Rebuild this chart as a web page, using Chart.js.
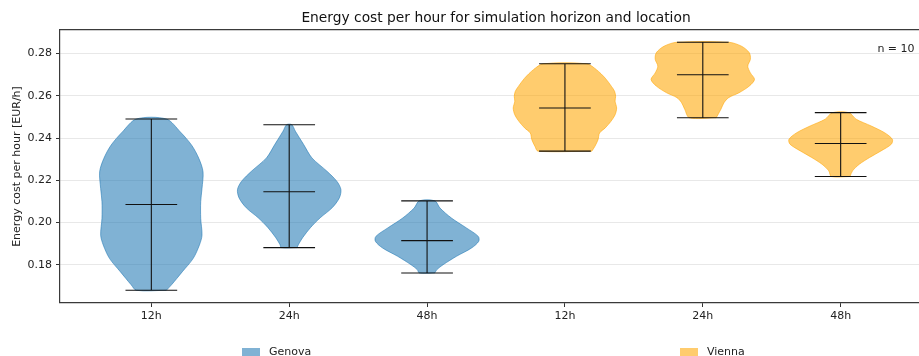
<!DOCTYPE html>
<html>
<head>
<meta charset="utf-8">
<script src="https://cdn.jsdelivr.net/npm/chart.js@4/dist/chart.umd.min.js"></script>
<style>
  html, body { margin: 0; padding: 0; background: #fff; }
  body { width: 919px; height: 356px; overflow: hidden; position: relative; font-family: "DejaVu Sans", sans-serif; }
  #wrap { position: absolute; left: 0; top: 0; width: 935px; height: 356px; }
  .leg { position: absolute; top: 344px; height: 16px; font-size: 11px; color: #222; white-space: nowrap; }
  .leg .sw { position: absolute; left: 0; top: 3.5px; width: 18px; height: 8px; }
  .leg .tx { position: absolute; left: 27px; top: 0; line-height: 16px; }
</style>
</head>
<body>
<div id="wrap"><canvas id="c" width="935" height="356"></canvas></div>
<div class="leg" style="left:242px"><div class="sw" id="swG"></div><div class="tx" id="txG"></div></div>
<div class="leg" style="left:680px"><div class="sw" id="swV"></div><div class="tx" id="txV"></div></div>
<script>
// Energy cost per hour [EUR/h], 10 runs per horizon and location
const locations = ['Genova', 'Vienna'];
const horizons = ['12h', '24h', '48h'];
const tickLabels = ['12h', '24h', '48h', '12h', '24h', '48h'];
const sampleSize = 10;

// summary lines per violin (Genova 12h, 24h, 48h, Vienna 12h, 24h, 48h)
const mins    = [0.1680, 0.1882, 0.1762, 0.2338, 0.2496, 0.2218];
const maxes   = [0.2490, 0.2463, 0.2103, 0.2751, 0.2853, 0.2520];
const medians = [0.2086, 0.2146, 0.1915, 0.2542, 0.2699, 0.2374];

// kernel density profiles: cost levels and relative density (1 = widest)
const genova12Levels  = [0.1680, 0.1706, 0.1768, 0.1831, 0.1894, 0.1941, 0.2020, 0.2099, 0.2161, 0.2240, 0.2303, 0.2366, 0.2429, 0.2490];
const genova12Density = [0.29, 0.39, 0.60, 0.81, 0.93, 0.98, 0.955, 0.955, 0.98, 1.00, 0.92, 0.78, 0.56, 0.29];
const genova24Levels  = [0.1882, 0.1897, 0.1929, 0.1976, 0.2023, 0.2070, 0.2117, 0.2157, 0.2196, 0.2243, 0.2306, 0.2369, 0.2432, 0.2463];
const genova24Density = [0.15, 0.18, 0.26, 0.41, 0.60, 0.83, 0.97, 1.00, 0.92, 0.73, 0.44, 0.28, 0.12, 0.05];
const genova48Levels  = [0.1762, 0.1778, 0.1801, 0.1841, 0.1880, 0.1912, 0.1935, 0.1975, 0.2022, 0.2069, 0.2103];
const genova48Density = [0.15, 0.19, 0.31, 0.57, 0.86, 1.00, 0.99, 0.76, 0.47, 0.25, 0.15];
const vienna12Levels  = [0.2338, 0.2361, 0.2392, 0.2424, 0.2448, 0.2479, 0.2510, 0.2542, 0.2574, 0.2597, 0.2621, 0.2644, 0.2683, 0.2723, 0.2751];
const vienna12Density = [0.52, 0.58, 0.64, 0.67, 0.78, 0.89, 0.97, 1.00, 0.97, 0.98, 0.96, 0.90, 0.78, 0.61, 0.42];
const vienna24Levels  = [0.2496, 0.2536, 0.2567, 0.2591, 0.2614, 0.2646, 0.2677, 0.2708, 0.2740, 0.2772, 0.2803, 0.2834, 0.2853];
const vienna24Density = [0.26, 0.35, 0.41, 0.50, 0.70, 0.90, 1.00, 0.92, 0.87, 0.92, 0.90, 0.75, 0.50];
const vienna48Levels  = [0.2218, 0.2245, 0.2276, 0.2308, 0.2339, 0.2371, 0.2394, 0.2425, 0.2457, 0.2489, 0.2520];
const vienna48Density = [0.18, 0.23, 0.36, 0.56, 0.78, 0.98, 1.00, 0.85, 0.59, 0.30, 0.16];

const profiles = [
  [genova12Levels, genova12Density], [genova24Levels, genova24Density], [genova48Levels, genova48Density],
  [vienna12Levels, vienna12Density], [vienna24Levels, vienna24Density], [vienna48Levels, vienna48Density]
];

const FONT = '"DejaVu Sans", "Liberation Sans", sans-serif';
const fills = ['rgba(31,119,180,0.57)', 'rgba(255,165,0,0.57)'];
const VIOLIN_WIDTH = 0.75;          // full width of a violin in x units
const CAP = VIOLIN_WIDTH / 4;       // half length of min / max / median bars

function outline(pos, levels, density) {
  const half = VIOLIN_WIDTH / 2;
  const pts = [];
  for (let i = 0; i < levels.length; i++) pts.push({x: pos + density[i] * half, y: levels[i]});
  for (let i = levels.length - 1; i >= 0; i--) pts.push({x: pos - density[i] * half, y: levels[i]});
  pts.push(pts[0]);
  return pts;
}

function bars(pos, lo, hi, med) {
  const gap = {x: null, y: null};
  return [
    {x: pos - CAP, y: lo}, {x: pos + CAP, y: lo}, gap,
    {x: pos - CAP, y: hi}, {x: pos + CAP, y: hi}, gap,
    {x: pos - CAP, y: med}, {x: pos + CAP, y: med}, gap,
    {x: pos, y: lo}, {x: pos, y: hi}
  ];
}

const datasets = [];
profiles.forEach(([levels, density], i) => {
  const loc = Math.floor(i / horizons.length);
  const pos = i + 1;
  datasets.push({
    label: locations[loc] + ' ' + horizons[i % horizons.length],
    data: outline(pos, levels, density),
    backgroundColor: fills[loc],
    borderColor: fills[loc],
    borderWidth: 1,
    fill: 'shape',
    tension: 0.3,
    pointRadius: 0,
    order: 2
  });
  datasets.push({
    label: 'summary',
    data: bars(pos, mins[i], maxes[i], medians[i]),
    borderColor: '#111',
    borderWidth: 1.1,
    fill: false,
    tension: 0,
    pointRadius: 0,
    spanGaps: false,
    order: 1
  });
});

const sampleNote = {
  id: 'sampleNote',
  afterDraw(chart) {
    const a = chart.chartArea, c = chart.ctx;
    c.save();
    c.font = '11px ' + FONT;
    c.fillStyle = '#222';
    c.textAlign = 'right';
    c.textBaseline = 'middle';
    c.fillText('n = ' + sampleSize, a.left + 0.98 * (a.right - a.left), a.top + 0.07 * (a.bottom - a.top));
    c.restore();
  }
};

Chart.defaults.font.family = FONT;
Chart.defaults.font.size = 11;
Chart.defaults.color = '#222';

new Chart(document.getElementById('c'), {
  type: 'line',
  data: { datasets },
  plugins: [sampleNote],
  options: {
    responsive: false,
    animation: false,
    devicePixelRatio: 1,
    layout: { padding: { left: 0, right: 3, top: 0, bottom: 0 } },
    plugins: {
      legend: { display: false },
      tooltip: { enabled: false },
      title: {
        display: true,
        fullSize: false,
        text: 'Energy cost per hour for simulation horizon and location',
        font: { size: 13.8, family: FONT, weight: 'normal' },
        color: '#111',
        padding: { top: 10, bottom: 3.4 }
      }
    },
    scales: {
      x: {
        type: 'linear',
        min: 0.3375,
        max: 6.6625,
        afterBuildTicks: s => { s.ticks = tickLabels.map((_, i) => ({ value: i + 1 })); },
        afterFit: s => { s.height = 53; },
        ticks: { callback: v => tickLabels[v - 1], padding: 3, maxRotation: 0, autoSkip: false },
        grid: { drawOnChartArea: false, drawTicks: true, tickLength: 4, tickColor: '#333', tickWidth: 1 },
        border: { display: true, color: '#3a3a3a', width: 1.2 }
      },
      xTop: {
        type: 'linear',
        position: 'top',
        min: 0, max: 1,
        afterFit: s => { s.height = 0; },
        ticks: { display: false },
        grid: { drawOnChartArea: false, drawTicks: false },
        border: { display: true, color: '#3a3a3a', width: 1.2 }
      },
      y: {
        type: 'linear',
        min: 0.162,
        max: 0.2911,
        afterBuildTicks: s => { s.ticks = [0.18, 0.20, 0.22, 0.24, 0.26, 0.28].map(v => ({ value: v })); },
        afterFit: s => { s.width = 60; },
        ticks: { callback: v => v.toFixed(2), padding: 4 },
        grid: { color: '#e8e8e8', lineWidth: 1, drawTicks: true, tickLength: 4, tickColor: '#333' },
        border: { display: true, color: '#3a3a3a', width: 1.2 },
        title: { display: true, text: 'Energy cost per hour [EUR/h]', font: { size: 11 }, padding: { top: 10.4, bottom: 0 } }
      }
    }
  }
});

// legend below the axes
document.getElementById('swG').style.background = fills[0];
document.getElementById('swV').style.background = fills[1];
document.getElementById('txG').textContent = locations[0];
document.getElementById('txV').textContent = locations[1];
</script>
</body>
</html>
